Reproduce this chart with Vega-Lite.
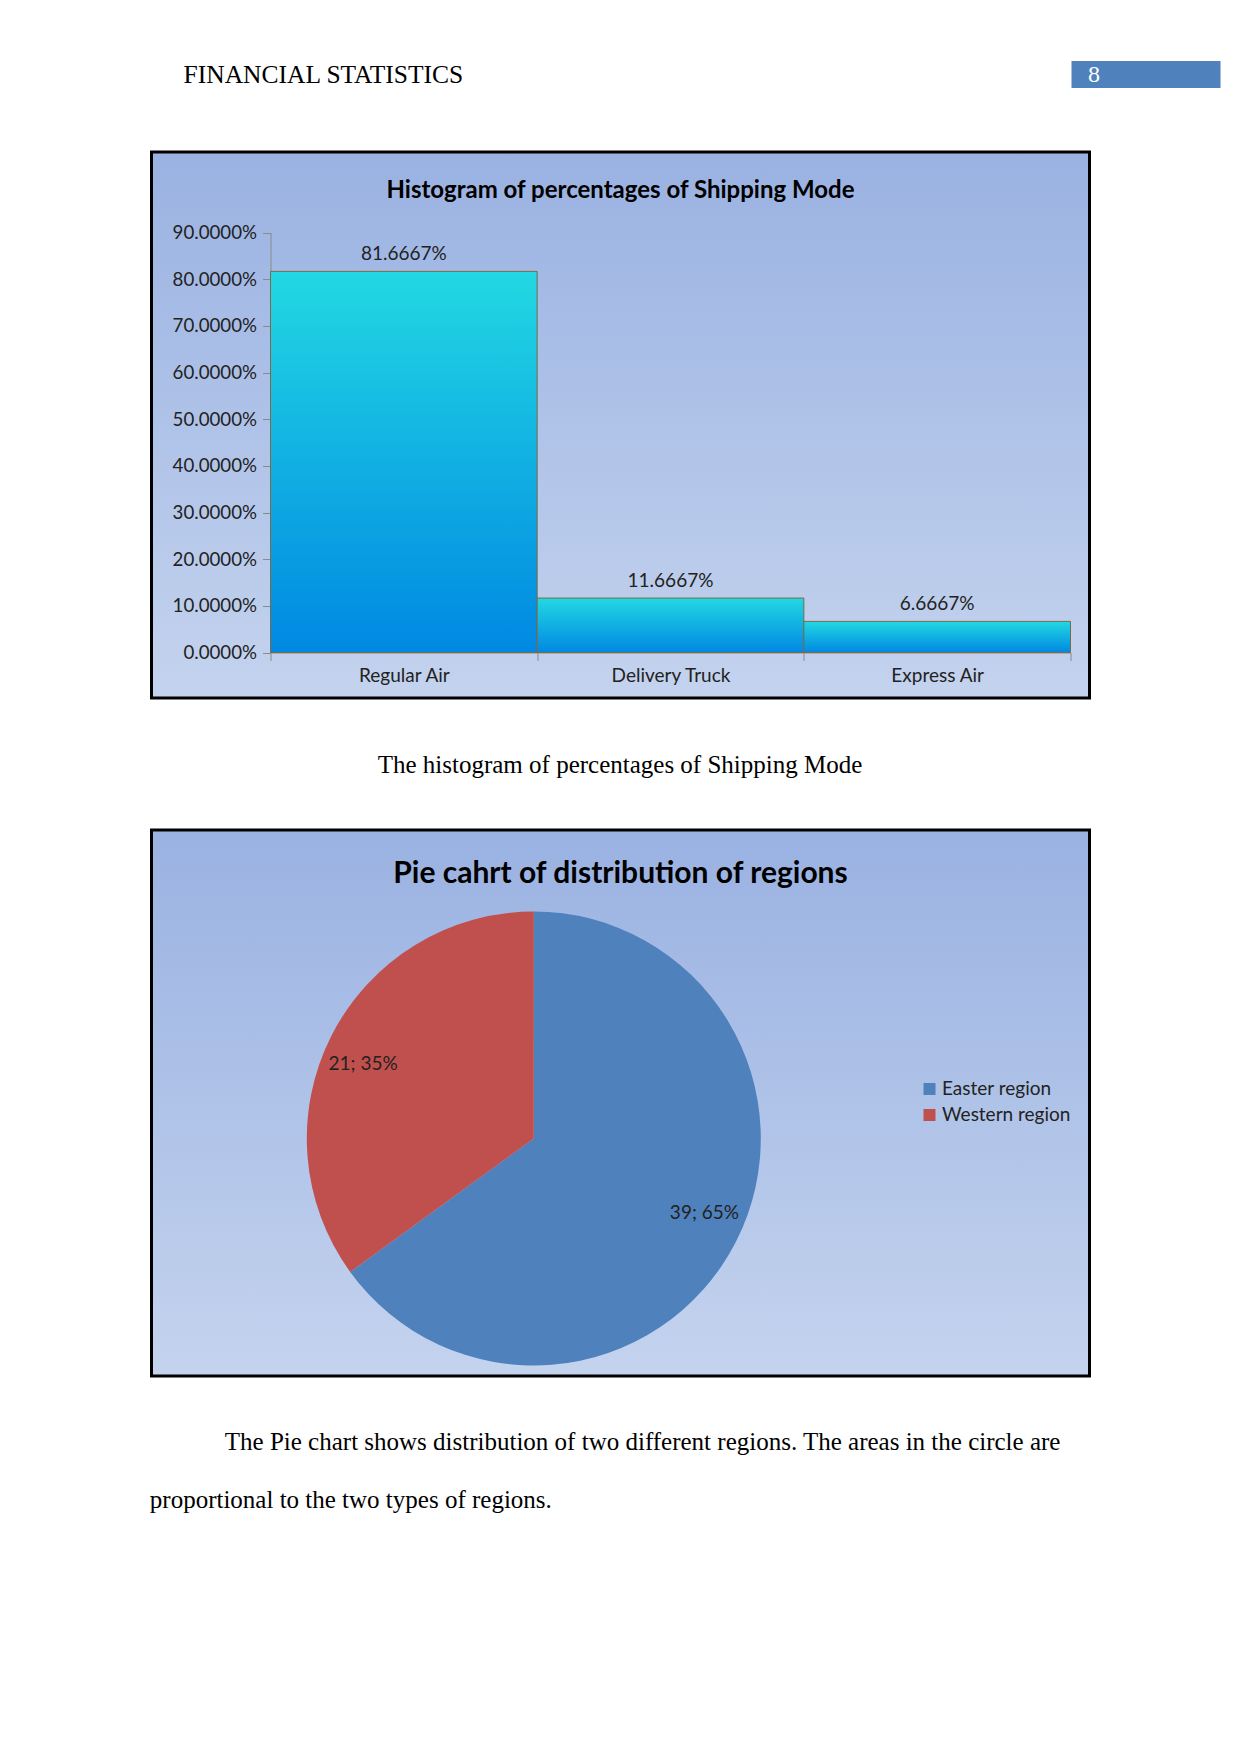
{
  "$schema": "https://vega.github.io/schema/vega-lite/v6.json",
  "padding": {"left": 149.5, "top": 61, "right": 0, "bottom": 0},
  "background": "white",
  "spacing": 0,
  "config": {"view": {"stroke": "transparent", "strokeWidth": 0}, "font": "Lato"},
  "vconcat": [
    {
      "hconcat": [
        {
          "width": 919.3, "height": 88.5,
          "view": {"stroke": "transparent", "strokeWidth": 0},
          "data": {"values": [{"header": "FINANCIAL STATISTICS"}]},
          "mark": {"type": "text", "align": "left", "baseline": "middle", "font": "Liberation Serif", "fontSize": 25.5, "color": "#000", "dx": -427.6, "dy": -30.25},
          "encoding": {"text": {"field": "header"}}
        },
        {
          "width": 149, "height": 27,
          "view": {"fill": "#4F81BD", "stroke": null},
          "data": {"values": [{"page": "8"}]},
          "mark": {"type": "text", "align": "center", "baseline": "middle", "font": "Liberation Serif", "fontSize": 24, "color": "#ffffff", "dx": -52},
          "encoding": {"text": {"field": "page"}}
        }
      ],
      "spacing": 0
    },
    {
      "width": 938, "height": 546,
      "view": {
        "stroke": "#000000", "strokeWidth": 3,
        "fill": {"gradient": "linear", "x1": 0, "y1": 0, "x2": 0, "y2": 1, "stops": [{"offset": 0, "color": "#9AB2E2"}, {"offset": 1, "color": "#C4D3EE"}]}
      },
      "title": {"text": "Histogram of percentages of Shipping Mode", "font": "Lato", "fontSize": 24, "fontWeight": "bold", "color": "#000000", "anchor": "middle", "frame": "group", "offset": -51},
      "data": {"values": [
        {"mode": "Regular Air", "pct": 0.816667},
        {"mode": "Delivery Truck", "pct": 0.116667},
        {"mode": "Express Air", "pct": 0.066667}
      ]},
      "encoding": {
        "x": {"field": "mode", "type": "nominal", "sort": null,
          "scale": {"range": [119, 919], "paddingInner": 0, "paddingOuter": 0},
          "axis": {"title": null, "orient": "bottom", "offset": -45.5, "labelAngle": 0, "labelFont": "Lato", "labelFontSize": 19, "labelColor": "#222222", "domainColor": "#8a8a8a", "tickColor": "#8a8a8a", "tickSize": 8, "tickBand": "extent", "labelPadding": 6}},
        "y": {"field": "pct", "type": "quantitative",
          "scale": {"domain": [0, 0.9], "range": [500.5, 80.5], "nice": false},
          "axis": {"title": null, "offset": -119, "values": [0, 0.1, 0.2, 0.3, 0.4, 0.5, 0.6, 0.7, 0.8, 0.9], "format": ".4%", "grid": false, "labelFont": "Lato", "labelFontSize": 18.7, "labelColor": "#222222", "domainColor": "#8a8a8a", "tickColor": "#8a8a8a", "tickSize": 8, "labelPadding": 6}}
      },
      "layer": [
        {
          "mark": {"type": "bar", "stroke": "#7a6a45", "strokeWidth": 1,
            "fill": {"gradient": "linear", "x1": 0, "y1": 0, "x2": 0, "y2": 1, "stops": [{"offset": 0, "color": "#22D8E2"}, {"offset": 1, "color": "#0088E2"}]}}
        },
        {
          "mark": {"type": "text", "baseline": "middle", "dy": -17.5, "font": "Lato", "fontSize": 19, "color": "#222222"},
          "encoding": {"text": {"field": "pct", "type": "quantitative", "format": ".4%"}}
        }
      ]
    },
    {
      "width": 941, "height": 127.8,
      "data": {"values": [{"caption": "The histogram of percentages of Shipping Mode"}]},
      "mark": {"type": "text", "align": "center", "baseline": "middle", "font": "Liberation Serif", "fontSize": 25, "color": "#000000", "dx": -2, "dy": 1.1},
      "encoding": {"text": {"field": "caption"}}
    },
    {
      "width": 938, "height": 546,
      "view": {
        "stroke": "#000000", "strokeWidth": 3,
        "fill": {"gradient": "linear", "x1": 0, "y1": 0, "x2": 0, "y2": 1, "stops": [{"offset": 0, "color": "#9AB2E2"}, {"offset": 1, "color": "#C4D3EE"}]}
      },
      "title": {"text": "Pie cahrt of distribution of regions", "font": "Lato", "fontSize": 30, "fontWeight": "bold", "color": "#000000", "anchor": "middle", "frame": "group", "offset": -59},
      "data": {"values": [
        {"region": "Easter region", "count": 39, "label": "39; 65%"},
        {"region": "Western region", "count": 21, "label": "21; 35%"}
      ]},
      "layer": [
        {
          "mark": {"type": "arc", "outerRadius": 227, "x": 382.3, "y": 308.5},
          "encoding": {
            "theta": {"field": "count", "type": "quantitative", "stack": true},
            "order": {"field": "region", "sort": "ascending"},
            "color": {"field": "region", "type": "nominal",
              "scale": {"domain": ["Easter region", "Western region"], "range": ["#4F81BD", "#C0504D"]},
              "legend": {"title": null, "orient": "none", "legendX": 768.5, "legendY": 1018.5, "symbolType": "square", "symbolSize": 144, "symbolStrokeWidth": 0, "symbolOpacity": 1, "labelFont": "Lato", "labelFontSize": 19, "labelColor": "#222222", "labelOffset": 3, "rowPadding": 6, "padding": 0}}
          }
        },
        {
          "mark": {"type": "text", "radius": 186, "thetaOffset": -0.062, "x": 382.3, "y": 308.5, "font": "Lato", "fontSize": 19, "color": "#222222"},
          "encoding": {
            "theta": {"field": "count", "type": "quantitative", "stack": true},
            "order": {"field": "region", "sort": "ascending"},
            "text": {"field": "label"}
          }
        }
      ]
    },
    {
      "width": 938, "height": 180,
      "data": {"values": [
        {"line": 1, "text": "The Pie chart shows distribution of two different regions. The areas in the circle are"},
        {"line": 2, "text": "proportional to the two types of regions."}
      ]},
      "layer": [
        {
          "transform": [{"filter": "datum.line == 1"}],
          "mark": {"type": "text", "align": "left", "baseline": "middle", "font": "Liberation Serif", "fontSize": 25, "color": "#000000", "dx": -395.7, "dy": -26},
          "encoding": {"text": {"field": "text"}}
        },
        {
          "transform": [{"filter": "datum.line == 2"}],
          "mark": {"type": "text", "align": "left", "baseline": "middle", "font": "Liberation Serif", "fontSize": 25, "color": "#000000", "dx": -470.7, "dy": 32},
          "encoding": {"text": {"field": "text"}}
        }
      ]
    }
  ]
}
